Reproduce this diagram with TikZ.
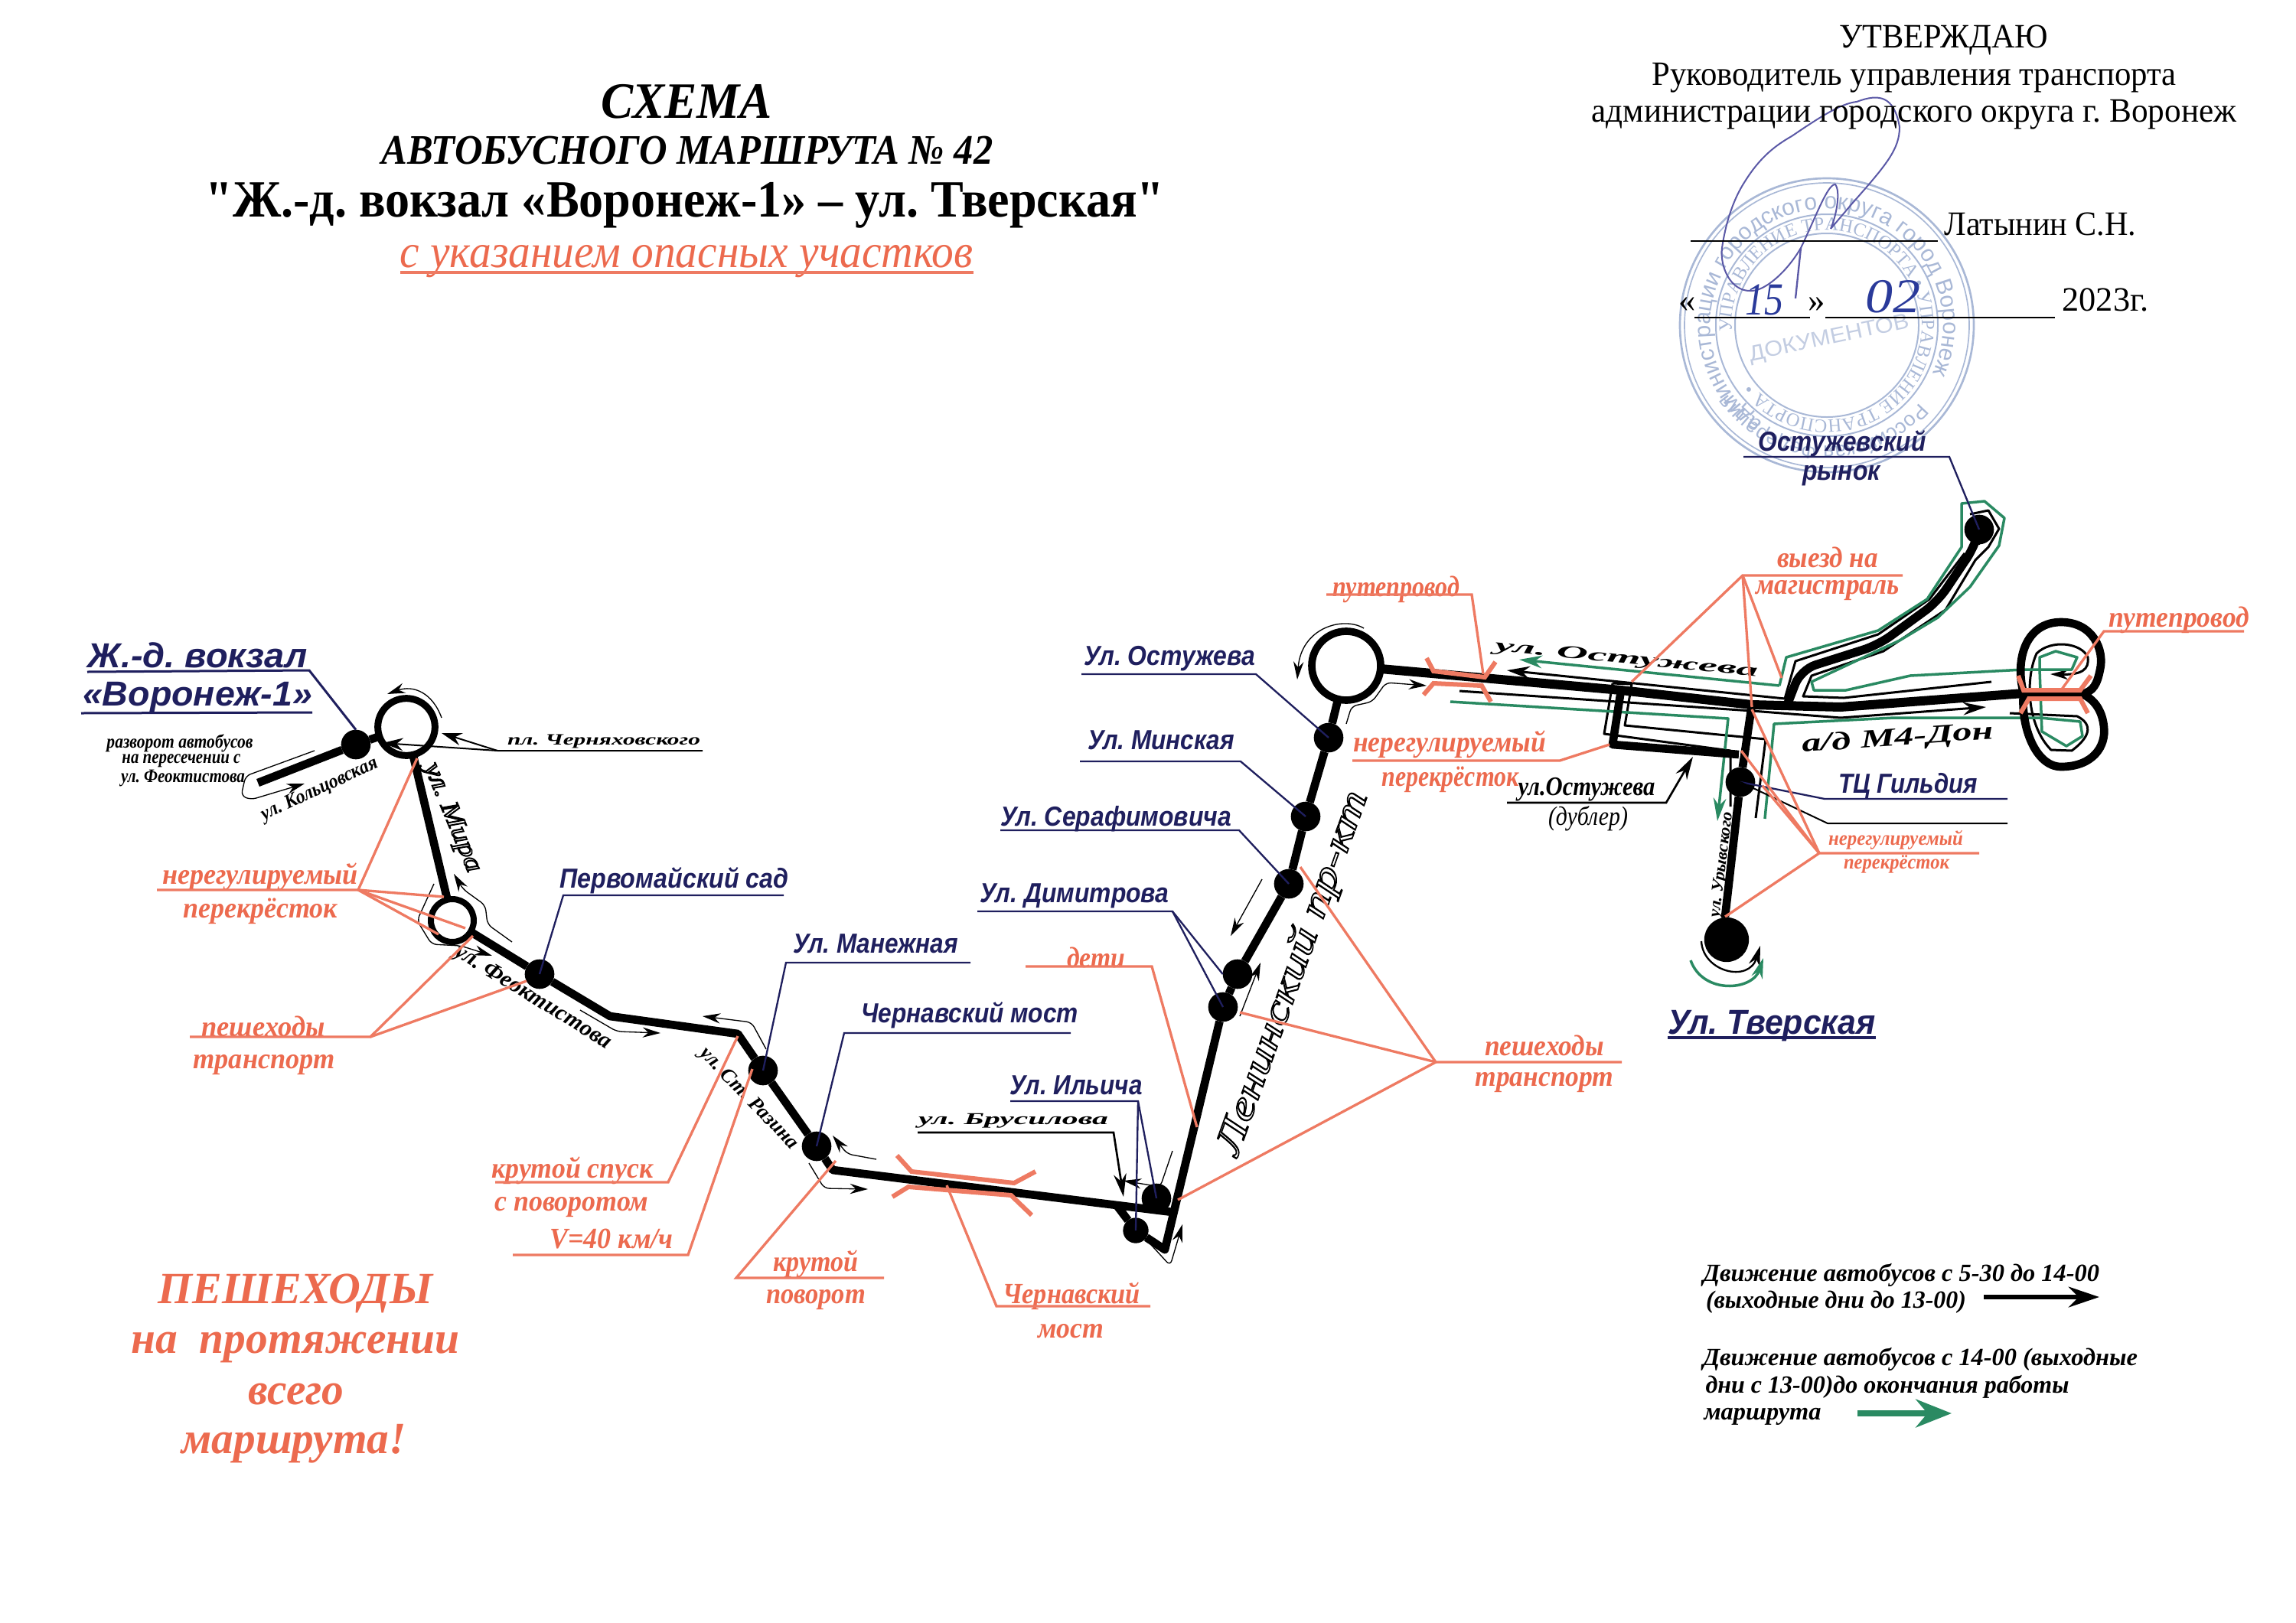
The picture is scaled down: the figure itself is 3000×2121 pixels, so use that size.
\documentclass[tikz,border=0pt]{standalone}
\usepackage{fontspec}
\usepackage{graphicx}
\setmainfont{Liberation Serif}
\setsansfont{Liberation Sans}
\newfontfamily\qfont{Liberation Serif}
\usetikzlibrary{arrows.meta,decorations.text,calc}
\definecolor{navyc}{HTML}{1F1F5E}
\definecolor{hazc}{HTML}{EC6A4E}
\definecolor{hazl}{HTML}{EE7A62}
\definecolor{greenc}{HTML}{2A8A62}
\definecolor{stampc}{HTML}{A9B8D6}
\definecolor{signc}{HTML}{5A58A6}
\definecolor{handc}{HTML}{2A3A9A}
\newsavebox\fitbx
\newcommand{\fitw}[2]{\sbox\fitbx{#2}\pgfmathsetmacro{\fitr}{#1*0.3/\wd\fitbx}\scalebox{\fitr}[1]{\usebox\fitbx}}
\newcommand{\fnt}[1]{\fontsize{#1}{#1}\selectfont}
\newcommand{\outl}[1]{\special{pdf:code q 1 Tr 0.5 w 0 0 0 RG}#1\special{pdf:code Q}}
\tikzset{
 lb/.style={inner sep=0pt,outer sep=0pt,anchor=center},
 stn/.style={lb,text=navyc,font=\fnt{10.8}\sffamily\bfseries\itshape},
 stnbig/.style={lb,text=navyc,font=\fnt{13.6}\sffamily\bfseries\itshape},
 hz/.style={lb,text=hazc,font=\fnt{11.5}\rmfamily\bfseries\itshape},
 hzsmall/.style={lb,text=hazc,font=\fnt{8}\rmfamily\bfseries\itshape},
 hzbig/.style={lb,text=hazc,font=\fnt{17.5}\rmfamily\bfseries\itshape},
 strt/.style={lb,text=black,font=\fnt{8}\rmfamily\bfseries\itshape},
 plain/.style={lb,text=black,font=\fnt{13.4}\rmfamily},
 legend/.style={lb,text=black,font=\fnt{9.7}\rmfamily\bfseries\itshape},
 stopdot/.style={circle,fill=black,inner sep=0pt,outer sep=0pt,minimum size=11.6pt},
 road/.style={line width=3.2pt,black,line join=round},
 thinb/.style={line width=.9pt,black,line join=round},
 greenl/.style={line width=1.05pt,greenc,line join=round},
 lead/.style={line width=.7pt,navyc},
 leadk/.style={line width=.6pt,black},
 haz/.style={line width=1pt,hazl},
 bridge/.style={line width=1.8pt,hazl},
 tarrow/.style={line width=.4pt,black,rounded corners=2pt,-{Stealth[length=7pt,width=4pt]}},
 tline/.style={line width=.4pt,black,rounded corners=2pt},
}
\begin{document}
\frenchspacing
\begin{tikzpicture}[x=0.3pt,y=-0.3pt]
\useasboundingbox (0,0) rectangle (3000,2121);
% ---------- stamp and signature
\begin{scope}[shift={(2387,425)},x=0.3pt,y=0.3pt]
 \draw[stampc,line width=.8pt] (0,0) circle (192);
 \draw[stampc,line width=.5pt] (0,0) circle (186);
 \draw[stampc,line width=.6pt] (0,0) circle (145);
 \draw[stampc,line width=.6pt] (0,0) circle (120);
 \path[decorate,decoration={text along path,text align=center,text={|\fnt{9}\sffamily\color{stampc}|администрации городского округа город Воронеж}}] (240:152) arc (240:-28:152);
 \path[decorate,decoration={text along path,text align=center,text={|\fnt{8}\sffamily\color{stampc}|Российская Федерация}}] (-40:158) arc (-40:-145:158);
 \path[decorate,decoration={text along path,text align=center,text={|\fnt{7.4}\rmfamily\color{stampc}|УПРАВЛЕНИЕ ТРАНСПОРТА • УПРАВЛЕНИЕ ТРАНСПОРТА •}}] (200:124) arc (200:-158:124);
 \node[lb,rotate=12,text=stampc!70,font=\fnt{8.5}\sffamily] (stamptext) at (3,-18) {\fitw{213}{ДОКУМЕНТОВ}};
\end{scope}
\draw[signc,line width=.6pt] (2392,299) .. controls (2400,280) and (2405,250) .. (2398,241) .. controls (2388,240) and (2372,285) .. (2353,324) .. controls (2335,355) and (2305,382) .. (2286,380) .. controls (2262,380) and (2247,350) .. (2250,324) .. controls (2255,290) and (2265,260) .. (2280,237) .. controls (2300,205) and (2320,190) .. (2341,178) .. controls (2375,155) and (2405,135) .. (2426,133) .. controls (2455,122) and (2475,125) .. (2482,166) .. controls (2482,195) and (2465,215) .. (2420,266) -- (2392,299);
\draw[signc,line width=.7pt] (2353,324) -- (2346,390);
% ---------- title block
\node[lb,font=\fnt{20}\rmfamily\bfseries\itshape] (t1) at (897,133) {\fitw{224}{СХЕМА}};
\node[lb,font=\fnt{16.5}\rmfamily\bfseries\itshape] (t2) at (898,197) {\fitw{799}{АВТОБУСНОГО МАРШРУТА № 42}};
\node[lb,font=\fnt{20.5}\rmfamily\bfseries] (t3) at (895,268) {\fitw{1253}{{\qfont\bfseries"}Ж.-д. вокзал «Воронеж-1» – ул. Тверская{\qfont\bfseries"}}};
\node[lb,text=hazc,font=\fnt{18.5}\rmfamily\itshape] (t4) at (897,342) {\fitw{749}{с указанием опасных участков}};
\coordinate (t4a) at (523,356); \coordinate (t4b) at (1272,356);
\draw[haz,line width=1pt] (t4a) -- (t4b);
% ---------- approval block
\node[plain] (a1) at (2540,52) {\fitw{273}{УТВЕРЖДАЮ}};
\node[plain] (a2) at (2501,102) {\fitw{685}{Руководитель управления транспорта}};
\node[plain] (a3) at (2501,150) {\fitw{843}{администрации городского округа г. Воронеж}};
\node[plain] (a4) at (2666,293) {\fitw{251}{Латынин С.Н.}};
\coordinate (a4a) at (2209,315); \coordinate (a4b) at (2532,315);
\draw[line width=.6pt] (a4a) -- (a4b);
\node[plain] (a5) at (2205,398) {«};
\node[plain] (a6) at (2374,398) {»};
\node[plain] (a7) at (2751,392) {\fitw{113}{2023г.}};
\coordinate (a8a) at (2214,415); \coordinate (a8b) at (2365,415);
\coordinate (a9a) at (2385,415); \coordinate (a9b) at (2685,415);
\draw[line width=.6pt] (a8a) -- (a8b);
\draw[line width=.6pt] (a9a) -- (a9b);
\node[lb,text=handc,font=\fnt{18}\rmfamily\itshape] (d1) at (2305,392) {\fitw{50}{15}};
\node[lb,text=handc,font=\fnt{19}\rmfamily\itshape] (d2) at (2473,388) {\fitw{72}{02}};
% ---------- stops
\node[stopdot] (st) at (465,973) {};
\node[circle,draw=black,line width=2.7pt,inner sep=0pt,outer sep=0pt,minimum size=22.4pt] (ring1) at (531,950) {};
\node[circle,draw=black,line width=2.4pt,inner sep=0pt,outer sep=0pt,minimum size=16.8pt] (ring2) at (591,1203) {};
\node[stopdot] (pm) at (705,1273) {};
\node[stopdot] (man) at (997,1399) {};
\node[stopdot] (cher) at (1067,1498) {};
\node[stopdot] (il) at (1511,1566) {};
\node[stopdot,minimum size=10pt] (sm) at (1484,1608) {};
\node[stopdot] (dim2) at (1598,1316) {};
\node[stopdot] (dim1) at (1617,1273) {};
\node[stopdot] (ser) at (1684,1155) {};
\node[stopdot] (min) at (1706,1067) {};
\node[stopdot] (ost) at (1736,964) {};
\node[circle,draw=black,line width=2.9pt,inner sep=0pt,outer sep=0pt,minimum size=27pt] (ring3) at (1759,870) {};
\node[stopdot] (mkt) at (2586,692) {};
\node[stopdot] (gil) at (2274,1022) {};
\node[stopdot,minimum size=17.5pt] (term) at (2256,1228) {};
% ---------- road junctions
\coordinate (kol) at (337,1023);
\coordinate (r1) at (797,1328);
\coordinate (r2) at (964,1351);
\coordinate (r3) at (1088,1529);
\coordinate (r4) at (1532,1584);
\coordinate (r5) at (1459,1575);
\coordinate (r6) at (1522,1633);
\coordinate (m1) at (2118,902);
\coordinate (m2) at (2289,921);
\coordinate (m3) at (2405,924);
\coordinate (m4) at (2644,906);
\coordinate (m5) at (2721,907);
\coordinate (d3) at (2107,973);
\coordinate (d4) at (2272,986);
\coordinate (g1) at (2279,989);
\coordinate (g2) at (2254,1198);
% ---------- thin parallel lines and green route (beneath the roads)
\draw[thinb] (2574,672) -- (2598,667) -- (2612,691) -- (2598,715) -- (2581,732) -- (2542,797) -- (2461,851) -- (2367,883) -- (2356,910) -- (2409,912) -- (2602,891);
\draw[thinb,-{Stealth[length=9pt,width=5pt]}] (2567,723) -- (2521,783) -- (2454,829) -- (2346,864) -- (2332,913) -- (1969,876);
\draw[thinb] (2107,893) -- (2132,894) -- (2123,948) -- (2307,966) -- (2294,1069);
\draw[thinb] (2107,893) -- (2096,959) -- (2261,981) -- (2261,1054);
\draw[thinb,-{Stealth[length=9pt,width=5pt]}] (1907,903) -- (2289,929) -- (2405,938) -- (2595,924);
\draw[thinb,-{Stealth[length=7pt,width=4pt]}] (2626,932) -- (2714,936) .. controls (2732,945) and (2735,960) .. (2707,981) -- (2680,980) .. controls (2650,950) and (2645,890) .. (2661,854) .. controls (2680,835) and (2720,840) .. (2728,859) .. controls (2730,875) and (2720,882) .. (2679,881);
\draw[greenl,-{Stealth[length=9pt,width=5pt]}] (1895,917) -- (2258,939) -- (2244,1073);
\draw[greenl,-{Stealth[length=9pt,width=5pt]}] (2325,896) -- (1985,862);
\draw[greenl] (2325,896) -- (2334,859) -- (2454,824) -- (2518,783) -- (2563,715) -- (2563,658) -- (2593,655) -- (2619,677) -- (2612,713) -- (2574,767) -- (2532,807) -- (2482,837) -- (2367,891) -- (2370,902) -- (2412,902) -- (2496,883) -- (2644,875) -- (2707,875) -- (2714,859) -- (2686,851) -- (2665,859) -- (2665,875) -- (2668,956) -- (2700,975) -- (2721,962) -- (2718,943) -- (2665,938) -- (2475,938) -- (2318,946) -- (2306,1070);
% ---------- roads
\draw[road] (kol) -- (st) -- (ring1);
\draw[road] (ring1) -- (ring2);
\draw[road] (ring2) -- (pm) -- (r1) -- (r2) -- (man) -- (cher) -- (r3) -- (r4);
\draw[road] (r5) -- (sm) -- (r6) -- (dim2) -- (dim1) -- (ser) -- (min) -- (ost) -- (ring3);
\draw[road,line width=3.6pt] (ring3) -- (m1) -- (m2) -- (m3) -- (m4) -- (m5);
\draw[road,line width=3.4pt,rounded corners=6pt] (mkt) -- (2581,713) -- (2532,786) -- (2454,843) -- (2353,875) -- (2336,919);
\draw[road] (m1) -- (d3) -- (d4);
\draw[road] (m2) -- (g1) -- (gil) -- (g2) -- (term);
\draw[road] (m4) .. controls (2632,860) and (2648,813) .. (2693,813) .. controls (2735,813) and (2750,850) .. (2744,875) .. controls (2740,895) and (2735,903) .. (m5);
\draw[road] (m4) .. controls (2640,950) and (2660,1002) .. (2693,1002) .. controls (2735,1002) and (2752,975) .. (2749,950) .. controls (2747,930) and (2738,915) .. (m5);
% ---------- bridges
\draw[bridge] (1172,1510) -- (1191,1531) -- (1325,1546) -- (1353,1531);
\draw[bridge] (1166,1564) -- (1187,1551) -- (1321,1562) -- (1348,1588);
\draw[bridge] (1864,860) -- (1873,877) -- (1940,885) -- (1954,865);
\draw[bridge] (1860,908) -- (1873,893) -- (1936,896) -- (1948,917);
\draw[bridge] (2637,883) -- (2644,902) -- (2718,902) -- (2732,883);
\draw[bridge] (2640,932) -- (2651,913) -- (2718,913) -- (2728,932);
% ---------- thin direction arrows
\draw[tarrow] (577,938) .. controls (565,905) and (540,895) .. (506,907);
\draw[tarrow] (411,981) -- (321,1014) -- (315,1040) -- (328,1045) -- (398,1024);
\draw[tarrow] (669,1231) -- (637,1208) -- (634,1183) -- (605,1162) -- (593,1142);
\draw[tarrow] (567,1155) -- (545,1203) -- (564,1234) -- (602,1236) -- (643,1249);
\draw[tarrow] (758,1320) -- (806,1348) -- (863,1350);
\draw[tarrow] (1001,1371) -- (982,1336) -- (918,1328);
\draw[tarrow] (1145,1515) -- (1107,1508) -- (1088,1484);
\draw[tarrow] (1057,1520) -- (1077,1553) -- (1134,1554);
\draw[tarrow] (1532,1504) -- (1516,1551) -- (1468,1543);
\draw[tarrow] (1496,1618) -- (1529,1654) -- (1545,1600);
\draw[tarrow] (1620,1328) -- (1647,1258);
\draw[tarrow] (1649,1149) -- (1608,1223);
\draw[tarrow] (1782,821) .. controls (1755,805) and (1700,820) .. (1695,888);
\draw[tarrow] (1759,946) -- (1766,923) -- (1793,917) -- (1811,892) -- (1864,896);
\draw[thinb,line width=.7pt,-{Stealth[length=8pt,width=4.5pt]}] (2223,1230) .. controls (2225,1270) and (2285,1285) .. (2300,1236);
\draw[greenl,-{Stealth[length=8pt,width=4.5pt]}] (2209,1255) .. controls (2225,1300) and (2290,1295) .. (2304,1252);
% ---------- street names
\node[strt,rotate=25,font=\fnt{7.8}\rmfamily\bfseries\itshape] (nKol) at (418,1032) {\fitw{165}{ул. Кольцовская}};
\node[strt,font=\fnt{6.2}\rmfamily\bfseries\itshape] (nChe) at (789,969) {\fitw{252}{пл. Черняховского}};
\node[strt,rotate=-67.5,font=\fnt{10}\rmfamily\itshape] (nMir) at (590,1069) {\fitw{152}{\outl{ул. Мира}}};
\node[strt,rotate=-31.5,font=\fnt{9}\rmfamily\bfseries\itshape] (nFeo) at (696,1304) {\fitw{235}{ул. Феоктистова}};
\node[strt,rotate=-46,font=\fnt{8}\rmfamily\bfseries\itshape] (nRaz) at (978,1436) {\fitw{174}{ул. Ст. Разина}};
\node[strt,font=\fnt{6.5}\rmfamily\bfseries\itshape] (nBru) at (1324,1465) {\fitw{248}{ул. Брусилова}};
\node[strt,rotate=70.2,font=\fnt{15}\rmfamily\itshape] (nLen) at (1690,1272) {\fitw{502}{\outl{Ленинский пр-кт}}};
\node[strt,rotate=-5.5,font=\fnt{7}\rmfamily\bfseries\itshape] (nOst) at (2125,862) {\fitw{345}{ул. Остужева}};
\node[strt,rotate=4,font=\fnt{10}\rmfamily\bfseries\itshape] (nM4) at (2480,966) {\fitw{250}{а/д М4-Дон}};
\node[strt,font=\fnt{10.5}\rmfamily\itshape\bfseries] (nDub) at (2073,1032) {\fitw{179}{ул.Остужева}};
\node[strt,font=\fnt{10.5}\rmfamily\itshape] (nDub2) at (2075,1070) {\fitw{104}{(дублер)}};
\node[strt,rotate=83,font=\fnt{6.5}\rmfamily\bfseries\itshape] (nUry) at (2250,1130) {\fitw{139}{ул. Урывского}};
\node[strt,font=\fnt{7.5}\rmfamily\bfseries\itshape] (tur1) at (235,971) {\fitw{191}{разворот автобусов}};
\node[strt,font=\fnt{7.5}\rmfamily\bfseries\itshape] (tur2) at (237,994) {\fitw{155}{на пересечении с}};
\node[strt,font=\fnt{7.5}\rmfamily\bfseries\itshape] (tur3) at (239,1017) {\fitw{162}{ул. Феоктистова}};
% ---------- stop labels
\node[stnbig] (lS1) at (258,856) {\fitw{287}{Ж.-д. вокзал}};
\node[stnbig] (lS2) at (258,912) {\fitw{300}{«Воронеж-1»}};
\node[stn] (lPm) at (881,1151) {\fitw{299}{Первомайский сад}};
\node[stn] (lMan) at (1144,1233) {\fitw{216}{Ул. Манежная}};
\node[stn] (lChe) at (1267,1327) {\fitw{284}{Чернавский мост}};
\node[stn] (lIl) at (1406,1418) {\fitw{173}{Ул. Ильича}};
\node[stn] (lDim) at (1404,1171) {\fitw{247}{Ул. Димитрова}};
\node[stn] (lSer) at (1458,1070) {\fitw{302}{Ул. Серафимовича}};
\node[stn] (lMin) at (1517,967) {\fitw{192}{Ул. Минская}};
\node[stn] (lOst) at (1528,861) {\fitw{224}{Ул. Остужева}};
\node[stn] (lMk1) at (2407,580) {\fitw{219}{Остужевский}};
\node[stn] (lMk2) at (2406,622) {\fitw{102}{рынок}};
\node[stn] (lGil) at (2493,1027) {\fitw{182}{ТЦ Гильдия}};
\node[stnbig] (lTv) at (2315,1341) {\fitw{272}{Ул. Тверская}};
% ---------- hazard labels
\node[hz] (h1) at (340,1146) {\fitw{256}{нерегулируемый}};
\node[hz] (h2) at (340,1191) {\fitw{202}{перекрёсток}};
\node[hz] (h3) at (344,1341) {\fitw{161}{пешеходы}};
\node[hz] (h4) at (345,1392) {\fitw{185}{транспорт}};
\node[hz] (h5) at (748,1530) {\fitw{211}{крутой спуск}};
\node[hz] (h6) at (747,1578) {\fitw{201}{с поворотом}};
\node[hz] (h7) at (799,1619) {\fitw{161}{V=40 км/ч}};
\node[hz] (h8) at (1066,1652) {\fitw{111}{крутой}};
\node[hz] (h9) at (1066,1699) {\fitw{130}{поворот}};
\node[hz] (h10) at (1400,1694) {\fitw{180}{Чернавский}};
\node[hz] (h11) at (1399,1740) {\fitw{86}{мост}};
\node[hz] (h12) at (1432,1251) {\fitw{76}{дети}};
\node[hz] (h13) at (2018,1366) {\fitw{156}{пешеходы}};
\node[hz] (h14) at (2018,1415) {\fitw{181}{транспорт}};
\node[hz] (h15) at (1894,973) {\fitw{252}{нерегулируемый}};
\node[hz] (h16) at (1895,1019) {\fitw{179}{перекрёсток}};
\node[hz] (h17) at (1824,770) {\fitw{166}{путепровод}};
\node[hz] (h18) at (2388,728) {\fitw{132}{выезд на}};
\node[hz] (h19) at (2388,772) {\fitw{188}{магистраль}};
\node[hz] (h20) at (2847,810) {\fitw{184}{путепровод}};
\node[hzsmall] (h21) at (2477,1098) {\fitw{176}{нерегулируемый}};
\node[hzsmall] (h22) at (2478,1129) {\fitw{138}{перекрёсток}};
\node[hzbig] (big1) at (386,1690) {\fitw{359}{ПЕШЕХОДЫ}};
\node[hzbig] (big2) at (386,1761) {\fitw{429}{на~~протяжении}};
\node[hzbig] (big3) at (387,1822) {\fitw{125}{всего}};
\node[hzbig] (big4) at (384,1887) {\fitw{293}{маршрута!}};
% ---------- stop leaders
\coordinate (u1a) at (114,878); \coordinate (u1b) at (404,876);
\coordinate (u2a) at (106,932); \coordinate (u2b) at (408,931);
\draw[lead,line width=.9pt] (u1a) -- (u1b) -- (st.north);
\draw[lead,line width=.9pt] (u2a) -- (u2b);
\coordinate (u3a) at (1024,1170); \coordinate (u3b) at (736,1170);
\draw[lead] (u3a) -- (u3b) -- (pm.center);
\coordinate (u4a) at (1268,1258); \coordinate (u4b) at (1027,1258);
\draw[lead] (u4a) -- (u4b) -- (man.center);
\coordinate (u5a) at (1399,1350); \coordinate (u5b) at (1103,1350);
\draw[lead] (u5a) -- (u5b) -- (cher.center);
\coordinate (u6a) at (1320,1439); \coordinate (u6b) at (1487,1439);
\draw[lead] (u6a) -- (u6b) -- (sm.center);
\draw[lead] (u6b) -- (il.center);
\coordinate (u7a) at (1277,1191); \coordinate (u7b) at (1532,1191);
\draw[lead] (u7a) -- (u7b) -- (dim1.west);
\draw[lead] (u7b) -- (dim2.center);
\coordinate (u8a) at (1307,1085); \coordinate (u8b) at (1619,1085);
\draw[lead] (u8a) -- (u8b) -- (ser.center);
\coordinate (u9a) at (1411,995); \coordinate (u9b) at (1621,995);
\draw[lead] (u9a) -- (u9b) -- (min.center);
\coordinate (u10a) at (1413,881); \coordinate (u10b) at (1641,881);
\draw[lead] (u10a) -- (u10b) -- (ost.center);
\coordinate (u11a) at (2278,597); \coordinate (u11b) at (2547,597);
\draw[lead] (u11a) -- (u11b) -- (mkt.center);
\coordinate (u12a) at (2623,1044); \coordinate (u12b) at (2384,1044);
\draw[lead] (u12a) -- (u12b) -- (gil.center);
\coordinate (u13a) at (2623,1076); \coordinate (u13b) at (2388,1076);
\draw[leadk] (u13a) -- (u13b) -- (gil.center);
\coordinate (u14a) at (2179,1356); \coordinate (u14b) at (2451,1356);
\draw[lead,line width=1pt] (u14a) -- (u14b);
% ---------- black street leaders
\coordinate (b1) at (918,981); \coordinate (b2) at (650,981);
\coordinate (b3) at (577,958); \coordinate (b4) at (500,971);
\draw[leadk,-{Stealth[length=8pt,width=5pt]}] (b1) -- (b2) -- (b3);
\draw[leadk,-{Stealth[length=8pt,width=5pt]}] (b2) -- (b4);
\coordinate (b5) at (1199,1480); \coordinate (b6) at (1455,1480); \coordinate (b7) at (1468,1564);
\draw[leadk,line width=.8pt,-{Stealth[length=9pt,width=5pt]}] (b5) -- (b6) -- (b7);
\coordinate (b8) at (1969,1049); \coordinate (b9) at (2177,1049); \coordinate (b10) at (2212,989);
\draw[leadk,line width=.8pt,-{Stealth[length=9pt,width=5pt]}] (b8) -- (b9) -- (b10);
% ---------- hazard leaders
\coordinate (c1a) at (205,1163); \coordinate (c1b) at (468,1163);
\coordinate (c1c) at (545,991); \coordinate (c1d) at (580,1172); \coordinate (c1e) at (608,1213); \coordinate (c1f) at (573,1221);
\draw[haz] (c1a) -- (c1b) -- (c1c); \draw[haz] (c1b) -- (c1d); \draw[haz] (c1b) -- (c1e); \draw[haz] (c1b) -- (c1f);
\coordinate (c2a) at (248,1355); \coordinate (c2b) at (484,1355);
\coordinate (c2c) at (618,1223); \coordinate (c2d) at (688,1282);
\draw[haz] (c2a) -- (c2b) -- (c2c); \draw[haz] (c2b) -- (c2d);
\coordinate (c3a) at (647,1545); \coordinate (c3b) at (873,1545); \coordinate (c3c) at (964,1354);
\draw[haz] (c3a) -- (c3b) -- (c3c);
\coordinate (c4a) at (670,1640); \coordinate (c4b) at (899,1640); \coordinate (c4c) at (983,1397);
\draw[haz] (c4a) -- (c4b) -- (c4c);
\coordinate (c5a) at (1155,1670); \coordinate (c5b) at (962,1670); \coordinate (c5c) at (1092,1517);
\draw[haz] (c5a) -- (c5b) -- (c5c);
\coordinate (c6a) at (1503,1707); \coordinate (c6b) at (1302,1707); \coordinate (c6c) at (1237,1549);
\draw[haz] (c6a) -- (c6b) -- (c6c);
\coordinate (c7a) at (1340,1263); \coordinate (c7b) at (1505,1263); \coordinate (c7c) at (1564,1473);
\draw[haz] (c7a) -- (c7b) -- (c7c);
\coordinate (c8a) at (2119,1388); \coordinate (c8b) at (1876,1388);
\coordinate (c8c) at (1620,1323); \coordinate (c8d) at (1539,1568); \coordinate (c8e) at (1699,1133);
\draw[haz] (c8a) -- (c8b) -- (c8c); \draw[haz] (c8b) -- (c8d); \draw[haz] (c8b) -- (c8e);
\coordinate (c9a) at (1767,994); \coordinate (c9b) at (2038,994); \coordinate (c9c) at (2103,973);
\draw[haz] (c9a) -- (c9b) -- (c9c);
\coordinate (c10a) at (1733,777); \coordinate (c10b) at (1923,777); \coordinate (c10c) at (1938,881);
\draw[haz] (c10a) -- (c10b) -- (c10c);
\coordinate (c11a) at (2486,752); \coordinate (c11b) at (2277,752);
\coordinate (c11c) at (2132,891); \coordinate (c11d) at (2328,886); \coordinate (c11e) at (2289,924);
\draw[haz] (c11a) -- (c11b) -- (c11c); \draw[haz] (c11b) -- (c11d); \draw[haz] (c11b) -- (c11e);
\coordinate (c12a) at (2586,1115); \coordinate (c12b) at (2377,1115);
\coordinate (c12c) at (2254,1198); \coordinate (c12d) at (2275,981); \coordinate (c12e) at (2289,927); \coordinate (c12f) at (2303,1027);
\draw[haz] (c12a) -- (c12b) -- (c12c); \draw[haz] (c12b) -- (c12d); \draw[haz] (c12b) -- (c12e); \draw[haz] (c12b) -- (c12f);
\coordinate (c13a) at (2932,825); \coordinate (c13b) at (2749,825); \coordinate (c13c) at (2693,902);
\draw[haz] (c13a) -- (c13b) -- (c13c);
% ---------- legend
\node[legend] (k1) at (2484,1666) {\fitw{518}{Движение автобусов с 5-30 до 14-00}};
\node[legend] (k2) at (2399,1702) {\fitw{340}{(выходные дни до 13-00)}};
\node[legend] (k3) at (2509,1776) {\fitw{568}{Движение автобусов с 14-00 (выходные}};
\node[legend] (k4) at (2466,1812) {\fitw{475}{дни с 13-00)до окончания работы}};
\node[legend] (k5) at (2303,1851) {\fitw{153}{маршрута}};
\coordinate (k6a) at (2592,1695); \coordinate (k6b) at (2743,1695);
\coordinate (k7a) at (2427,1847); \coordinate (k7b) at (2550,1847);
\draw[black,line width=2pt,-{Stealth[length=12pt,width=8pt]}] (k6a) -- (k6b);
\draw[greenc,line width=2.4pt,-{Stealth[length=14pt,width=11pt]}] (k7a) -- (k7b);
\end{tikzpicture}
\end{document}
